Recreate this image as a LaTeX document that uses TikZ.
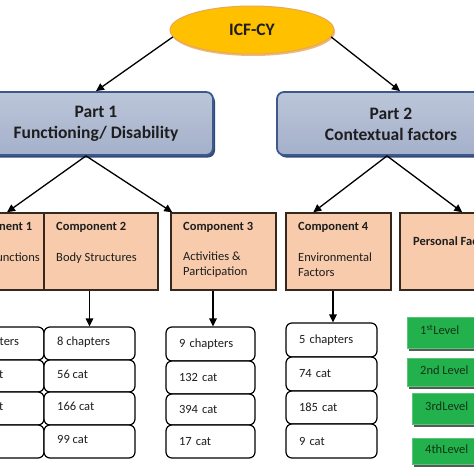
\documentclass[tikz,border=0pt]{standalone}
\usepackage{fontspec}
\setmainfont{Carlito}
\usetikzlibrary{arrows.meta,shapes.geometric}
\definecolor{icfyellow}{RGB}{255,192,0}
\definecolor{icfedge}{RGB}{232,168,90}
\definecolor{partedge}{RGB}{60,88,140}
\definecolor{parttop}{RGB}{188,198,218}
\definecolor{partbot}{RGB}{164,176,202}
\definecolor{peach}{RGB}{247,203,172}
\definecolor{compedge}{RGB}{55,40,30}
\definecolor{lvlgreen}{RGB}{34,177,76}
\definecolor{lvltext}{RGB}{18,52,22}
\definecolor{txtgray}{RGB}{30,30,30}
\begin{document}
\begin{tikzpicture}[x=1pt,y=-1pt,
  arr/.style={-{Triangle[length=8pt,width=7.5pt]}, line width=1.3pt, black},
  partbox/.style={draw=partedge, line width=1.8pt, rounded corners=7pt, top color=parttop, bottom color=partbot, inner sep=0pt},
  partshadow/.style={fill=partedge!85!black, rounded corners=7pt, inner sep=0pt},
  compbox/.style={draw=compedge, line width=1.5pt, fill=peach, inner sep=0pt, minimum height=77pt},
  comptitle/.style={anchor=mid west, inner sep=0pt, font=\fontsize{12.5}{15}\selectfont\bfseries, text=txtgray},
  comptext/.style={anchor=mid west, inner sep=0pt, font=\fontsize{12.5}{15}\selectfont, text=txtgray},
  cell/.style={draw=black, line width=1.2pt, rounded corners=6pt, fill=white, inner ysep=0pt, inner xsep=13pt, align=left, font=\fontsize{12.5}{15}\selectfont, text=txtgray},
  lvl/.style={fill=lvlgreen, draw=lvlgreen!75!white, line width=0.8pt, inner sep=0pt},
  lvlshadow/.style={fill=black!65, inner sep=0pt},
  lvltxt/.style={anchor=mid west, inner sep=0pt, font=\fontsize{12.5}{15}\selectfont, text=lvltext}
]
\useasboundingbox (0,0) rectangle (474,474);
\clip (0,0) rectangle (474,474);
\fill[white] (0,0) rectangle (474,474);

% ICF-CY ellipse
\node[ellipse, fill=icfedge!80, minimum width=164pt, minimum height=48pt, inner sep=0pt] (icfsh) at (253,32) {};
\node[ellipse, fill=icfyellow, draw=icfedge, line width=1pt, minimum width=164pt, minimum height=48pt, inner sep=0pt,
      font=\fontsize{17.5}{20}\selectfont\bfseries, text=txtgray] (icf) at (252,30) {ICF-CY};

% Part boxes
\node[partshadow, minimum width=234pt, minimum height=63pt] (p1sh) at (98,126) {};
\node[partbox, minimum width=234pt, minimum height=63pt] (part1) at (96,123.5) {};
\node[partshadow, minimum width=228pt, minimum height=63pt] (p2sh) at (393,126) {};
\node[partbox, minimum width=228pt, minimum height=63pt] (part2) at (391,123.5) {};
\node[inner sep=0pt, font=\fontsize{17.5}{21}\selectfont\bfseries, text=txtgray, align=center] (p1t) at (96,124) {Part 1\\Functioning/ Disability};
\node[inner sep=0pt, font=\fontsize{17.5}{21}\selectfont\bfseries, text=txtgray, align=center] (p2t) at (391,124) {Part 2\\Contextual factors};

% Component boxes
\node[compbox, minimum width=94pt] (comp1) at (-3,251.5) {};
\node[compbox, minimum width=114pt] (comp2) at (101,251.5) {};
\node[compbox, minimum width=105pt] (comp3) at (223.5,251.5) {};
\node[compbox, minimum width=105pt] (comp4) at (338.5,251.5) {};
\node[compbox, minimum width=121pt] (pers) at (460.5,251.5) {};

\node[comptitle] (c1t) at (-38,228) {Component 1};
\node[comptext]  (c1b) at (-38,259) {Body Functions};
\node[comptitle] (c2t) at (56,228) {Component 2};
\node[comptext]  (c2b) at (56,259) {Body Structures};
\node[comptitle] (c3t) at (183,228) {Component 3};
\node[comptext]  (c3b) at (183,258) {Activities \&};
\node[comptext]  (c3c) at (183,273) {Participation};
\node[comptitle] (c4t) at (298,228) {Component 4};
\node[comptext]  (c4b) at (298,259) {Environmental};
\node[comptext]  (c4c) at (298,274) {Factors};
\node[comptitle] (pt)  at (413,243) {Personal Factors};

% Columns of cells
\foreach \n/\cx/\w in {a/-1.5/91, b/89.5/91}{
  \node[cell, minimum width=\w pt, text width=\w pt-26pt, minimum height=33pt] (\n1) at (\cx,343.5) {};
  \node[cell, minimum width=\w pt, text width=\w pt-26pt, minimum height=32pt] (\n2) at (\cx,376) {};
  \node[cell, minimum width=\w pt, text width=\w pt-26pt, minimum height=33pt] (\n3) at (\cx,408.5) {};
  \node[cell, minimum width=\w pt, text width=\w pt-26pt, minimum height=33pt] (\n4) at (\cx,441.5) {};
}
\node[comptext] (ta1) at (-34,343.5) {8 chapters};
\node[comptext] (ta2) at (-34,376) {117 cat};
\node[comptext] (ta3) at (-34,408.5) {362 cat};
\node[comptext] (ta4) at (-34,441.5) {24 cat};
\node[comptext] (tb1) at (57,343.5) {8 chapters};
\node[comptext] (tb2) at (57,376) {56 cat};
\node[comptext] (tb3) at (57,408.5) {166 cat};
\node[comptext] (tb4) at (57,441.5) {99 cat};

\node[cell, minimum width=89pt, text width=63pt, minimum height=34pt] (c1) at (210.5,344) {9 chapters};
\node[cell, minimum width=89pt, text width=63pt, minimum height=33pt] (c2) at (210.5,377.5) {132 cat};
\node[cell, minimum width=89pt, text width=63pt, minimum height=31pt] (c3) at (210.5,409.5) {394 cat};
\node[cell, minimum width=89pt, text width=63pt, minimum height=33pt] (c4) at (210.5,441.5) {17 cat};

\node[cell, minimum width=91pt, text width=65pt, minimum height=34pt] (d1) at (331.5,340) {5 chapters};
\node[cell, minimum width=91pt, text width=65pt, minimum height=34pt] (d2) at (331.5,374) {74 cat};
\node[cell, minimum width=91pt, text width=65pt, minimum height=33pt] (d3) at (331.5,407.5) {185 cat};
\node[cell, minimum width=91pt, text width=65pt, minimum height=34pt] (d4) at (331.5,441) {9 cat};

% Level boxes
\node[lvlshadow, minimum width=82pt, minimum height=31pt] (g1s) at (450,335.5) {};
\node[lvl, minimum width=84pt, minimum height=31pt] (g1) at (449,332.5) {};
\node[lvltxt] (g1t) at (420,332) {1\textsuperscript{st}Level};
\node[lvlshadow, minimum width=82pt, minimum height=28pt] (g2s) at (450,375) {};
\node[lvl, minimum width=84pt, minimum height=28pt] (g2) at (449,372) {};
\node[lvltxt] (g2t) at (420,372) {2nd Level};
\node[lvlshadow, minimum width=77pt, minimum height=31pt] (g3s) at (452.5,411.5) {};
\node[lvl, minimum width=79pt, minimum height=31pt] (g3) at (451.5,408.5) {};
\node[lvltxt] (g3t) at (425,408.5) {3rdLevel};
\node[lvlshadow, minimum width=77pt, minimum height=26pt] (g4s) at (452.5,454) {};
\node[lvl, minimum width=79pt, minimum height=26pt] (g4) at (451.5,451) {};
\node[lvltxt] (g4t) at (425,451) {4thLevel};

% Arrows
\draw[arr] (icf.185) -- (part1.north);
\draw[arr] (icf.-5) -- ([xshift=9pt]part2.north);
\draw[arr] ([xshift=-10pt]part1.south) -- ([xshift=10pt]comp1.north);
\draw[arr] ([xshift=-10pt]part1.south) -- ([xshift=2pt]comp3.north west);
\draw[arr] ([xshift=-4pt]part2.south) -- ([xshift=28pt]comp4.north west);
\draw[arr] ([xshift=-4pt]part2.south) -- ([xshift=63pt]pers.north west);
\draw[arr] (comp2.south -| b1.north) -- (b1.north);
\draw[arr] ([xshift=2.5pt]comp3.south -| c1.north) -- ([xshift=2.5pt]c1.north);
\draw[arr] ([xshift=1.5pt]comp4.south -| d1.north) -- ([xshift=1.5pt]d1.north);
\end{tikzpicture}
\end{document}
